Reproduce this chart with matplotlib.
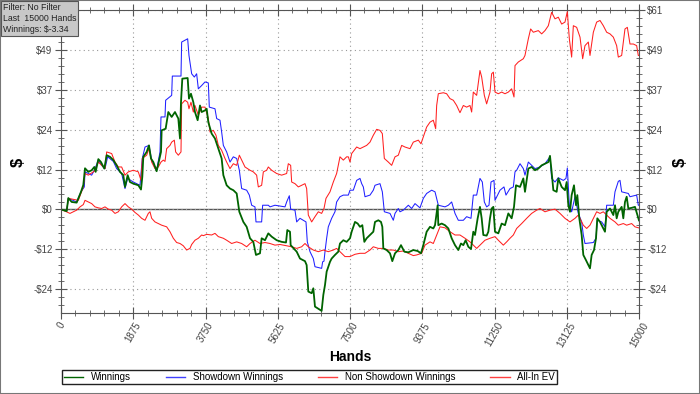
import matplotlib.pyplot as plt
import numpy as np
from matplotlib.ticker import MultipleLocator, FuncFormatter
from matplotlib.patches import Rectangle

plt.rcParams['font.family'] = ['Liberation Sans', 'DejaVu Sans']

# puntos (manos, $)
winnings = [
    (0, 0), (147, -0.5), (190, 3.5), (277, 2.3), (406, 2.1), (450, 3.4), (519, 5.4), (579, 7.5),
    (623, 12.6), (709, 11.5), (796, 12.0), (865, 13.0), (899, 11.5), (969, 15.4), (1038, 14.5),
    (1124, 12.5), (1185, 16.6), (1271, 16.1), (1358, 15.1), (1444, 13.5), (1531, 11.5), (1617, 10.5),
    (1661, 6.9), (1730, 10.5), (1790, 8.4), (1877, 7.9), (2007, 7.4), (2076, 6.1), (2110, 10.0),
    (2136, 16.1), (2223, 17.6), (2283, 19.6), (2335, 15.6), (2396, 14.5), (2482, 11.7), (2595, 17.6),
    (2612, 24.2), (2716, 24.7), (2785, 29.8), (2872, 28.3), (2958, 29.8), (3045, 27.8), (3088, 21.7),
    (3114, 32.8), (3148, 40.0), (3287, 40.2), (3321, 33.9), (3373, 35.4), (3434, 32.8), (3477, 29.8),
    (3546, 27.3), (3607, 31.8), (3650, 29.8), (3737, 30.3), (3780, 30.8), (3823, 26.7), (3910, 23.2),
    (3996, 21.7), (4083, 18.6), (4169, 15.6), (4213, 10.5), (4299, 7.4), (4386, 6.4), (4472, 5.9),
    (4559, 4.9), (4628, -0.7), (4732, -3.8), (4818, -5.3), (4905, -8.8), (4991, -9.9), (5060, -13.9),
    (5164, -13.4), (5207, -8.8), (5294, -9.4), (5380, -7.3), (5467, -8.3), (5597, -9.4), (5726, -9.9),
    (5839, -10.1), (5873, -6.3), (5943, -6.8), (5960, -10.9), (6116, -12.9), (6202, -15.0),
    (6332, -15.8), (6375, -17.0), (6418, -25.1), (6505, -25.6), (6548, -24.1), (6591, -29.7),
    (6721, -30.7), (6764, -31.0), (6808, -26.1), (6851, -23.1), (6894, -19.0), (6981, -16.0),
    (7024, -15.0), (7110, -13.9), (7197, -12.9), (7240, -10.4), (7327, -9.4), (7413, -9.9),
    (7500, -8.8), (7543, -6.8), (7630, -3.8), (7699, -4.3), (7759, -5.3), (7820, -4.8), (7872, -9.9),
    (7932, -8.8), (8019, -7.8), (8105, -6.8), (8149, -3.8), (8235, -3.3), (8304, -3.8), (8339, -5.3),
    (8365, -11.9), (8451, -12.4), (8538, -13.4), (8598, -15.8), (8668, -13.4), (8754, -12.4),
    (8823, -10.9), (8910, -12.9), (9014, -13.1), (9143, -12.4), (9256, -12.7), (9342, -13.4),
    (9403, -10.9), (9489, -6.8), (9576, -5.3), (9662, -5.8), (9706, -4.8), (9775, 1.3), (9792, -4.8),
    (9879, -4.3), (9965, -4.8), (10052, -5.8), (10138, -8.8), (10225, -10.9), (10311, -12.4),
    (10380, -10.4), (10441, -10.9), (10501, -9.4), (10571, -11.4), (10640, -12.1), (10700, -6.8),
    (10744, -7.8), (10813, -2.7), (10873, 0.8), (10917, -2.7), (10960, -7.8), (11046, -8.0),
    (11090, -6.8), (11133, -2.7), (11176, 0.3), (11220, 0.8), (11263, -6.8), (11349, -7.3),
    (11436, -4.3), (11522, -4.8), (11609, -1.2), (11695, -2.7), (11756, 0.8), (11808, 7.4),
    (11912, 6.9), (11998, 9.5), (12041, 5.4), (12128, 12.5), (12214, 13.0), (12301, 12.0),
    (12387, 12.5), (12474, 13.5), (12560, 14.0), (12647, 14.5), (12690, 16.4), (12733, 11.5),
    (12777, 5.9), (12863, 5.4), (12906, 9.5), (12993, 6.9), (13079, 5.9), (13123, 8.4), (13166, 1.3),
    (13209, -0.7), (13252, 4.4), (13313, 7.4), (13365, 1.3), (13399, 4.4), (13451, -2.7),
    (13512, -7.8), (13555, -13.9), (13624, -15.5), (13685, -17.0), (13728, -18.0), (13771, -13.9),
    (13832, -12.4), (13884, -8.8), (13918, -2.7), (13988, -3.8), (14074, -5.8), (14117, -6.8),
    (14161, -0.7), (14247, 0.3), (14334, -1.7), (14377, 1.3), (14420, -2.7), (14463, -0.7),
    (14550, 0.8), (14593, -2.7), (14636, 2.3), (14680, 3.9), (14723, 0.3), (14809, 0.5),
    (14896, 0.8), (14982, -2.7), (15000, -3.34),
]

showdown = [
    (0, 0), (147, -0.5), (190, 3.4), (406, 2.3), (519, 5.4), (605, 6.9), (623, 11.5), (796, 10.5),
    (865, 12.0), (969, 15.1), (1055, 13.5), (1142, 12.5), (1211, 16.1), (1358, 14.7), (1444, 12.5),
    (1574, 11.0), (1661, 6.4), (1730, 9.5), (1877, 8.4), (2050, 7.4), (2110, 15.6), (2180, 19.1),
    (2283, 19.6), (2353, 15.1), (2482, 12.0), (2569, 17.6), (2595, 28.3), (2699, 28.3), (2716, 33.4),
    (2872, 34.9), (2889, 40.8), (3114, 40.8), (3131, 51.2), (3287, 52.2), (3321, 47.1), (3391, 41.5),
    (3460, 40.5), (3520, 41.5), (3564, 36.9), (3650, 37.9), (3737, 39.0), (3823, 38.7), (3849, 31.3),
    (3996, 30.8), (4040, 27.8), (4126, 27.3), (4169, 23.7), (4213, 19.6), (4299, 17.6), (4386, 14.5),
    (4472, 16.1), (4559, 15.6), (4628, 12.0), (4688, 6.4), (4818, 5.9), (4887, 4.4), (4948, 1.3),
    (5034, 0.8), (5060, -3.8), (5207, -3.8), (5233, 1.3), (5380, 1.3), (5424, 0.8), (5553, 1.3),
    (5813, 0.8), (5856, 2.3), (5925, 4.2), (5960, 0.1), (6072, -0.2), (6116, -3.8), (6202, -2.7),
    (6289, -3.3), (6358, -3.8), (6392, -9.9), (6462, -12.9), (6548, -15.0), (6591, -17.5),
    (6764, -18.0), (6790, -16.0), (6825, -15.8), (6851, -12.9), (6894, -8.8), (6937, -5.3),
    (7024, -2.7), (7110, -0.7), (7153, 2.3), (7240, 3.9), (7327, 4.4), (7457, 4.4), (7500, 5.9),
    (7586, 5.9), (7673, 8.9), (7759, 9.5), (7803, 7.9), (7846, 6.9), (7889, 3.9), (8019, 4.4),
    (8105, 5.9), (8149, 7.4), (8278, 7.9), (8339, 5.4), (8391, -0.7), (8538, -1.2), (8624, -3.3),
    (8668, -1.2), (8754, 0.3), (8797, -0.7), (8884, -0.2), (9014, 1.3), (9100, 0.3), (9187, 1.8),
    (9316, 0.5), (9403, 3.4), (9489, 4.9), (9619, 5.9), (9706, 5.4), (9749, 3.4), (9792, 1.3),
    (9965, 0.8), (10052, 1.3), (10138, 2.3), (10225, -1.2), (10311, -3.3), (10441, -3.3),
    (10527, -2.2), (10640, -2.7), (10700, 4.4), (10787, 4.4), (10873, 9.5), (10934, 8.4),
    (10986, 2.3), (11046, 0.8), (11107, 1.3), (11159, 8.4), (11237, 8.9), (11263, 2.8), (11393, 5.9),
    (11496, 6.9), (11548, 4.4), (11652, 6.4), (11739, 6.9), (11782, 11.5), (11825, 12.0),
    (11912, 14.0), (11998, 12.5), (12041, 10.5), (12128, 14.5), (12214, 13.5), (12301, 12.5),
    (12431, 13.0), (12560, 14.0), (12690, 16.1), (12733, 9.5), (12820, 8.4), (12906, 9.7),
    (13036, 8.9), (13105, 9.5), (13140, 12.7), (13192, 1.3), (13252, -0.7), (13339, 3.9),
    (13425, -1.2), (13512, -3.8), (13555, -7.8), (13598, -10.4), (13815, -10.1), (13884, -8.8),
    (13918, -3.3), (14031, -3.8), (14117, -5.3), (14161, 1.3), (14334, 1.3), (14377, 5.4),
    (14463, 8.6), (14507, 8.9), (14550, 5.4), (14723, 4.9), (14766, 3.9), (14939, 4.4),
    (14982, 1.3), (15000, 1.3),
]

non_showdown = [
    (0, 0), (104, -0.5), (233, -1.2), (320, -0.7), (406, -0.2), (493, 0.8), (579, 1.5), (623, 2.8),
    (709, 2.3), (796, 1.8), (882, 0.8), (969, 0.5), (1055, 0.3), (1142, 0.8), (1228, 0.1),
    (1315, -0.2), (1401, -1.2), (1488, -0.7), (1574, 0.8), (1661, 1.8), (1747, 0.8), (1834, 0.1),
    (1920, -0.9), (2007, -1.7), (2093, -2.7), (2180, -3.3), (2266, -1.2), (2309, -0.7), (2353, -2.7),
    (2439, -3.8), (2526, -4.3), (2612, -4.8), (2742, -5.3), (2828, -6.8), (2915, -8.8), (3001, -10.1),
    (3088, -10.4), (3174, -11.1), (3261, -12.4), (3347, -11.9), (3391, -10.7), (3477, -9.4),
    (3564, -8.8), (3650, -7.8), (3694, -8.0), (3780, -7.6), (3910, -7.8), (3996, -7.3), (4083, -8.3),
    (4213, -8.8), (4299, -9.4), (4429, -10.4), (4559, -9.9), (4688, -10.4), (4818, -11.4),
    (4905, -10.4), (5034, -9.4), (5164, -10.4), (5294, -10.1), (5424, -10.4), (5553, -10.9),
    (5683, -10.7), (5856, -11.1), (5986, -11.4), (6116, -11.9), (6245, -11.4), (6332, -10.4),
    (6418, -11.4), (6548, -12.4), (6678, -12.9), (6808, -12.4), (6937, -12.9), (7067, -12.4),
    (7153, -11.9), (7240, -12.9), (7370, -14.4), (7500, -14.4), (7630, -13.7), (7759, -13.4),
    (7889, -13.4), (8019, -12.4), (8105, -11.4), (8235, -11.9), (8365, -11.9), (8495, -12.4),
    (8624, -12.4), (8754, -12.9), (8884, -12.7), (9014, -13.4), (9143, -14.1), (9230, -13.9),
    (9360, -13.4), (9446, -10.9), (9576, -9.9), (9662, -10.4), (9749, -7.8), (9835, -5.3),
    (9965, -5.6), (10095, -6.8), (10225, -7.8), (10354, -7.8), (10484, -8.8), (10614, -9.9),
    (10700, -10.9), (10787, -11.9), (10917, -10.4), (11003, -9.4), (11133, -8.8), (11263, -8.3),
    (11349, -9.4), (11479, -10.9), (11566, -9.9), (11652, -8.8), (11739, -7.8), (11825, -5.8),
    (11955, -4.3), (12085, -2.7), (12214, -1.2), (12344, -0.2), (12431, 0.3), (12560, -0.7),
    (12690, -0.2), (12820, 0.1), (12950, -1.2), (13079, -2.7), (13209, -3.8), (13339, -2.7),
    (13425, -1.7), (13555, -4.8), (13642, -5.8), (13728, -4.8), (13815, -2.7), (13901, -0.7),
    (13988, -1.2), (14074, -0.7), (14161, -1.7), (14247, -2.7), (14377, -3.8), (14463, -4.8),
    (14593, -4.3), (14680, -4.8), (14809, -4.3), (14896, -5.3), (14982, -5.6), (15000, -5.6),
]

all_in_ev = [
    (0, 0), (147, -0.5), (190, 3.4), (450, 2.8), (579, 6.9), (623, 11.0), (709, 10.5), (865, 11.7),
    (969, 14.5), (1055, 13.5), (1142, 12.5), (1185, 17.6), (1315, 17.1), (1401, 14.5), (1488, 13.0),
    (1574, 13.0), (1661, 10.5), (1747, 11.5), (1877, 12.0), (2007, 11.5), (2076, 8.9), (2110, 15.6),
    (2223, 16.6), (2283, 18.6), (2353, 14.5), (2439, 12.5), (2526, 13.0), (2595, 14.5), (2655, 15.1),
    (2699, 14.7), (2742, 18.6), (2828, 19.6), (2872, 20.6), (2941, 21.2), (2975, 17.6), (3045, 16.6),
    (3114, 17.6), (3131, 32.3), (3218, 33.4), (3287, 32.8), (3321, 30.8), (3373, 32.8), (3434, 29.8),
    (3477, 31.8), (3564, 28.8), (3650, 31.3), (3737, 31.3), (3823, 27.8), (3867, 23.7), (3953, 24.2),
    (4022, 22.7), (4083, 19.6), (4169, 18.1), (4256, 15.6), (4299, 14.5), (4386, 12.5), (4472, 14.0),
    (4559, 13.5), (4628, 16.6), (4688, 15.1), (4775, 13.0), (4905, 12.0), (4991, 11.5), (5077, 10.5),
    (5121, 6.9), (5207, 7.4), (5251, 11.5), (5337, 12.0), (5380, 13.0), (5467, 12.0), (5597, 11.0),
    (5726, 10.5), (5856, 11.0), (5899, 14.0), (5960, 13.5), (5986, 8.4), (6072, 7.9), (6159, 6.9),
    (6245, 7.4), (6332, 7.9), (6375, 6.4), (6418, -1.7), (6505, -3.8), (6591, -2.2), (6678, -0.7),
    (6764, -1.2), (6825, 0.3), (6877, 3.4), (6981, 5.4), (7067, 8.4), (7153, 11.0), (7240, 16.1),
    (7327, 15.1), (7413, 16.1), (7457, 16.1), (7500, 14.5), (7543, 17.1), (7673, 19.1), (7759, 18.6),
    (7846, 19.1), (7932, 19.6), (8019, 20.6), (8105, 22.7), (8192, 24.5), (8278, 24.2), (8339, 23.2),
    (8391, 15.6), (8495, 14.5), (8581, 13.5), (8668, 16.1), (8754, 16.6), (8841, 19.6), (8927, 19.1),
    (9057, 18.6), (9143, 20.6), (9273, 21.2), (9342, 20.1), (9403, 22.2), (9489, 25.2), (9576, 26.7),
    (9662, 27.3), (9723, 24.7), (9749, 31.8), (9792, 35.4), (9922, 35.7), (10008, 35.4),
    (10095, 33.9), (10181, 33.4), (10268, 31.8), (10354, 29.6), (10441, 31.8), (10527, 31.3),
    (10614, 31.8), (10657, 29.8), (10700, 35.9), (10787, 34.9), (10873, 42.5), (10917, 40.5),
    (10986, 34.9), (11046, 32.3), (11133, 35.9), (11176, 41.5), (11220, 42.0), (11263, 35.9),
    (11349, 35.4), (11436, 35.9), (11522, 35.4), (11609, 35.9), (11695, 36.9), (11756, 34.4),
    (11782, 44.0), (11868, 45.1), (11998, 46.1), (12041, 47.1), (12128, 52.2), (12188, 55.2),
    (12258, 54.2), (12387, 54.7), (12474, 53.7), (12560, 54.7), (12647, 56.2), (12733, 60.3),
    (12820, 58.3), (12906, 58.8), (12993, 56.7), (13079, 57.3), (13140, 60.5), (13192, 52.2),
    (13252, 46.6), (13296, 56.2), (13382, 55.7), (13469, 52.7), (13538, 46.1), (13598, 50.1),
    (13685, 51.2), (13728, 47.1), (13815, 54.2), (13901, 57.3), (13988, 57.8), (14074, 56.2),
    (14161, 54.2), (14247, 53.7), (14334, 52.7), (14420, 50.1), (14463, 46.6), (14550, 47.1),
    (14636, 55.2), (14697, 55.7), (14766, 50.6), (14853, 50.6), (14939, 50.1), (14982, 47.1),
    (15000, 47.1),
]

x_ticks = [0, 1875, 3750, 5625, 7500, 9375, 11250, 13125, 15000]
y_step = 12.2
info = "Filter: No Filter\nLast  15000 Hands\nWinnings: $-3.34"

fig = plt.figure(figsize=(7, 3.94), dpi=100)
ax = fig.add_axes([61 / 700, 1 - 312.5 / 394, 578 / 700, 302.5 / 394])

# series
h, v = np.array(showdown).T
l_sd, = ax.plot(h, v, color='#2020ff', lw=0.75, label='Showdown Winnings')
h, v = np.array(non_showdown).T
l_nsd, = ax.plot(h, v, color='#ff2020', lw=0.75, label='Non Showdown Winnings')
h, v = np.array(all_in_ev).T
l_ev, = ax.plot(h, v, color='#ff2020', lw=0.75, label='All-In EV')
h, v = np.array(winnings).T
l_win, = ax.plot(h, v, color='#006400', lw=1.3, label='Winnings')

ax.axhline(0, color='#555555', lw=1, zorder=1)

# ejes
ax.set_xlim(0, 15000)
ax.set_ylim(-31.5, 61)
ax.set_xticks(x_ticks)
ax.xaxis.set_minor_locator(MultipleLocator(375))
ax.yaxis.set_major_locator(MultipleLocator(y_step))
ax.yaxis.set_minor_locator(MultipleLocator(y_step / 5))
ax.yaxis.set_major_formatter(FuncFormatter(
    lambda y, p: ('-$%d' % round(-y)) if y < -0.01 else ('$%d' % round(y))))
ax.grid(True, which='major', color='#999999', lw=0.8, linestyle=(0, (1, 3)))
for s in ax.spines.values():
    s.set_color('#555555')
ax.tick_params(which='both', direction='inout', colors='#555555', top=True, right=True,
               labelright=True, labelsize=7, labelcolor='#444444')
ax.tick_params(which='major', length=8, pad=2)
ax.tick_params(which='minor', length=5)
for lab in ax.get_xticklabels():
    lab.set_rotation(60)
    lab.set_ha('center')
    lab.set_va('top')

# el recuadro de info tapa la etiqueta izquierda de $61
fig.canvas.draw()
for t in ax.yaxis.get_major_ticks():
    if t.get_loc() > 60:
        t.label1.set_visible(False)

fig.text(350 / 700, 1 - 357 / 394, 'Hands', fontsize=10, fontweight='bold',
         ha='center', va='center')
fig.text(18 / 700, 1 - 162 / 394, '$', rotation=90, fontsize=12, fontweight='bold',
         ha='center', va='center')
fig.text(680 / 700, 1 - 162 / 394, '$', rotation=90, fontsize=12, fontweight='bold',
         ha='center', va='center')

leg = fig.legend(handles=[l_win, l_sd, l_nsd, l_ev], loc='lower left', ncol=4, mode='expand',
                 bbox_to_anchor=(62 / 700, 1 - 384 / 394, 495 / 700, 18 / 394), fontsize=7,
                 handlelength=2, borderpad=0.2, borderaxespad=0, fancybox=False,
                 edgecolor='#222222', framealpha=1)
for line, c in zip(leg.get_lines(), ['#006400', '#4040ff', '#ff4040', '#ff4040']):
    line.set_color(c)
    line.set_linewidth(1.0)

fig.text(3 / 700, 1 - 3 / 394, info, fontsize=6.3, va='top', ha='left', linespacing=1.3,
         color='#222222',
         bbox=dict(boxstyle='square,pad=0.2', facecolor='#c8c8c8', edgecolor='#555555', lw=0.8))

fig.patches.append(Rectangle((0, 0), 1, 1, transform=fig.transFigure, fill=False,
                             edgecolor='#777777', lw=1.5))

fig.savefig('out.png', dpi=100)
